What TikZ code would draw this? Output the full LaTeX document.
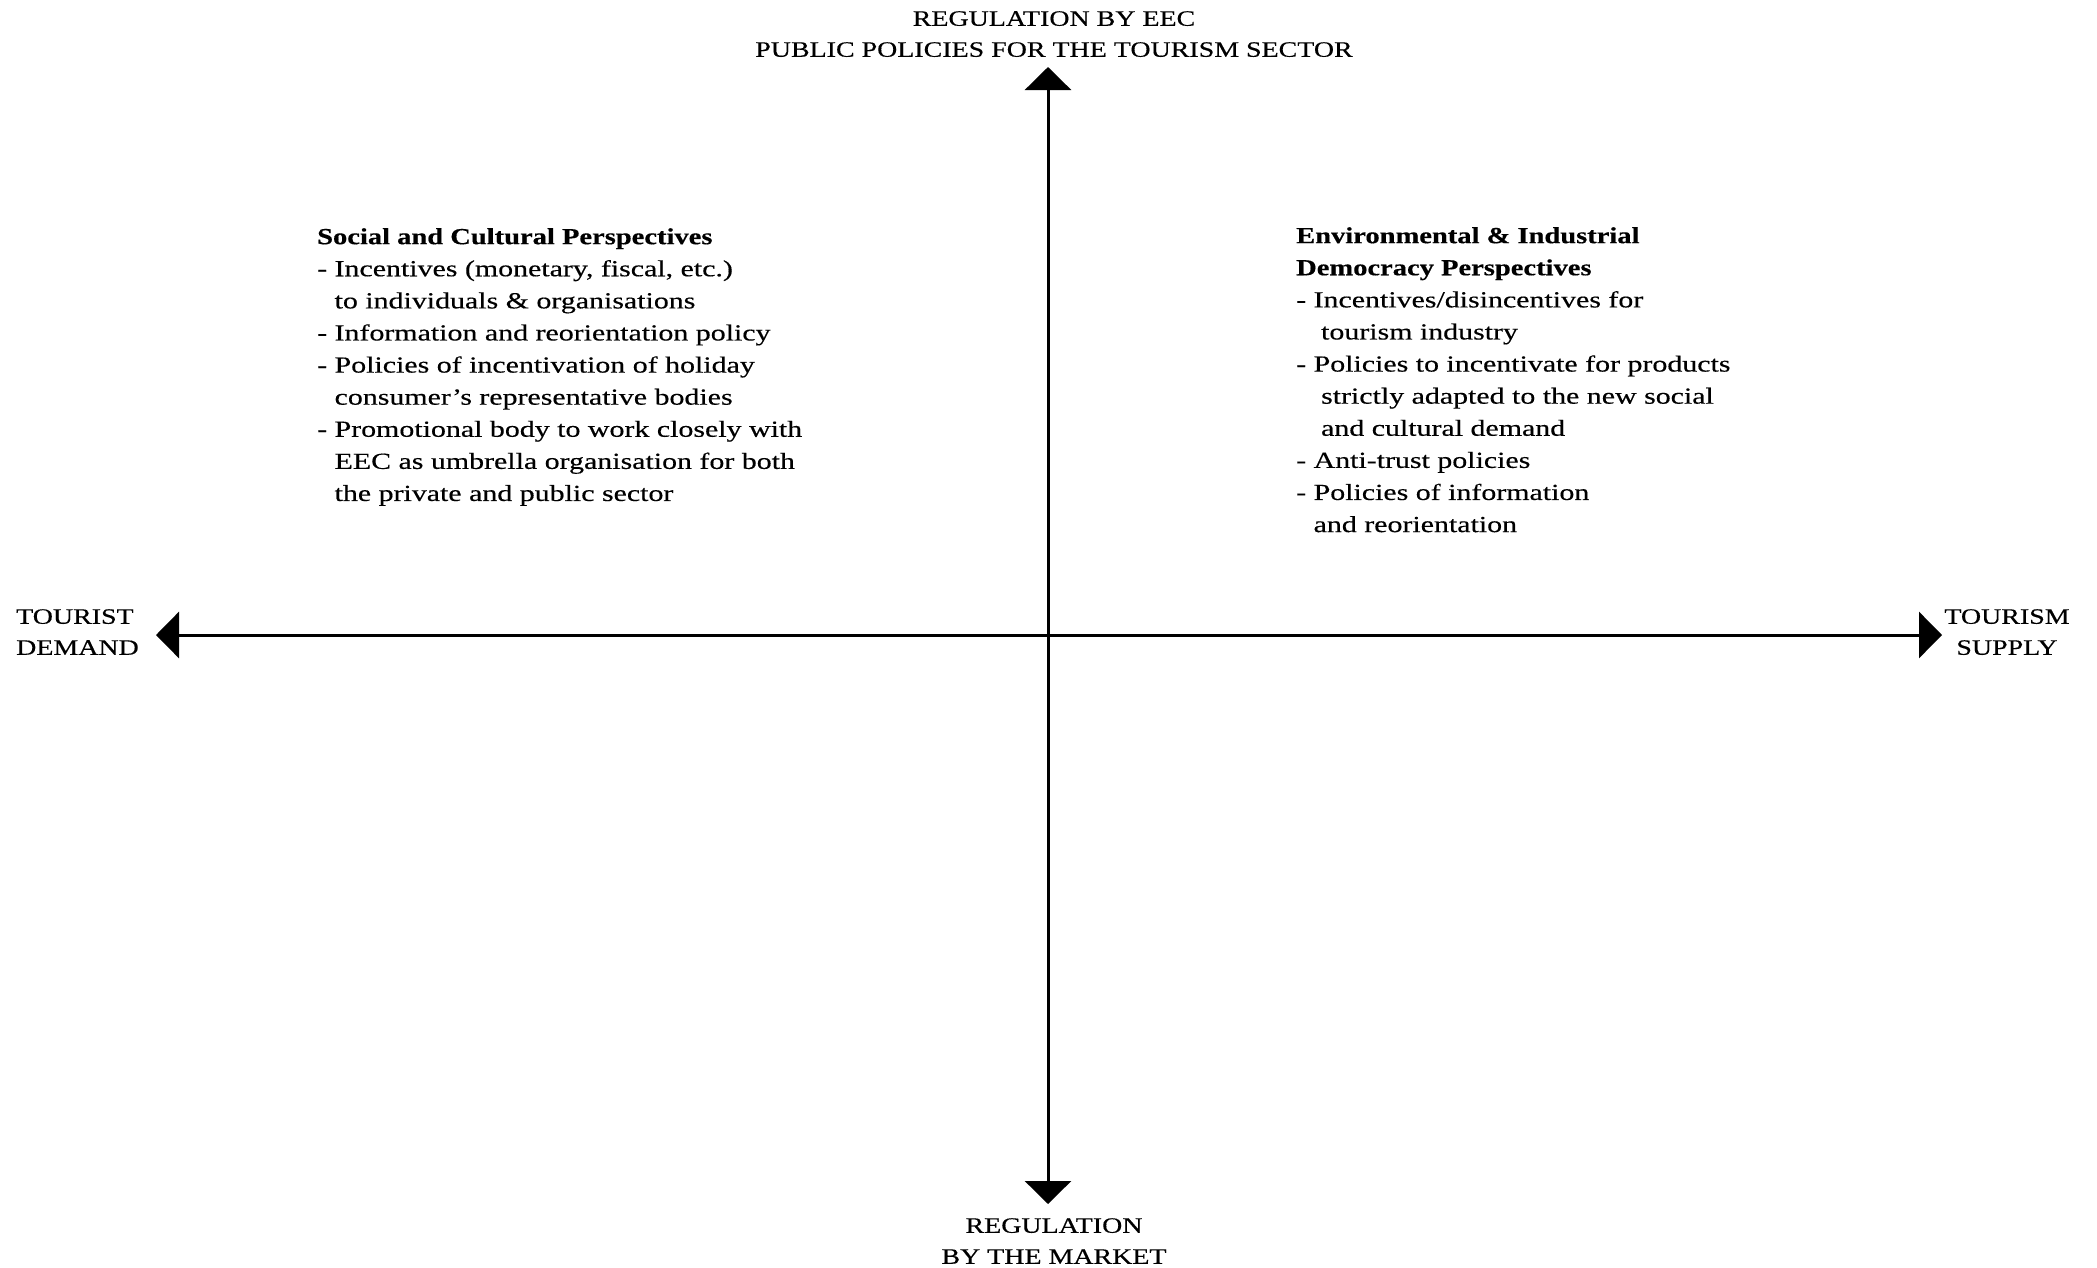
\documentclass[tikz,border=0pt]{standalone}
\usepackage{fontspec}
\setmainfont{Liberation Serif}[FakeStretch=1.3, FakeBold=0.4, BoldFeatures={FakeStretch=1.24}]
\newfontfamily\axisfont{Liberation Serif}[FakeStretch=1.27, FakeBold=0.4]
\usetikzlibrary{arrows.meta, positioning}

\tikzset{
    axis/.style={line width=3pt, {Triangle[length=23pt, width=46pt]}-{Triangle[length=23pt, width=46pt]}},
    axistext/.style={inner sep=0pt, font=\axisfont\fontsize{22}{31}\selectfont},
    quadtext/.style={inner sep=0pt, align=left, anchor=north west, font=\fontsize{23}{32.1}\selectfont}
}
\newcommand{\ind}{\hphantom{- }}

\begin{document}
\begin{tikzpicture}[x=1pt, y=-1pt]
    \useasboundingbox (0, 0) rectangle (2097, 1267);

    \coordinate (N) at (1048, 67);
    \coordinate (S) at (1048, 1204);
    \coordinate (W) at (156, 635);
    \coordinate (E) at (1942, 635);
    \draw[axis] (S) -- (N);
    \draw[axis] (W) -- (E);

    \node[axistext, align=center, anchor=north] (top) at (1054, 11) {REGULATION BY EEC\\PUBLIC POLICIES FOR THE TOURISM SECTOR};
    \node[axistext, align=center, anchor=north] (bottom) at (1054, 1218) {REGULATION\\BY THE MARKET};
    \node[axistext, align=left, anchor=north west] (demand) at (16, 609) {TOURIST\\DEMAND};
    \node[axistext, align=center, anchor=north] (supply) at (2007, 609) {TOURISM\\SUPPLY};

    \node[quadtext] (social) at (317, 228) {\textbf{Social and Cultural Perspectives}\\
        - Incentives (monetary, fiscal, etc.)\\
        \ind to individuals \& organisations\\
        - Information and reorientation policy\\
        - Policies of incentivation of holiday\\
        \ind consumer's representative bodies\\
        - Promotional body to work closely with\\
        \ind EEC as umbrella organisation for both\\
        \ind the private and public sector};

    \node[quadtext] (environ) at (1296, 227) {\textbf{Environmental \& Industrial}\\
        \textbf{Democracy Perspectives}\\
        - Incentives/disincentives for\\
        \ind\ tourism industry\\
        - Policies to incentivate for products\\
        \ind\ strictly adapted to the new social\\
        \ind\ and cultural demand\\
        - Anti-trust policies\\
        - Policies of information\\
        \ind and reorientation};
\end{tikzpicture}
\end{document}
